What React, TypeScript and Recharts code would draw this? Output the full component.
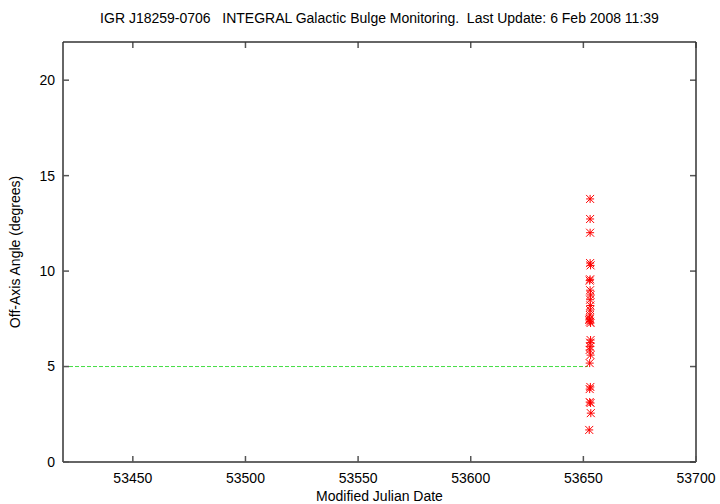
import React from 'react';
import { ScatterChart, Scatter, XAxis, YAxis, ReferenceLine, Label } from 'recharts';

const mjd = [
  53653.0, 53653.0, 53653.0, 53653.0, 53653.2, 53653.0, 53652.8, 53653.0, 53653.2, 53653.0,
  53653.1, 53653.0, 53652.9, 53652.6, 53652.8, 53653.2, 53652.9, 53653.2, 53653.0, 53653.0,
  53652.8, 53653.2, 53652.8, 53653.1, 53652.8, 53652.8, 53653.2, 53653.3, 53652.6,
];
const offAxis = [
  13.78, 12.73, 12.01, 10.42, 10.3, 9.57, 9.5, 9.0, 8.75, 8.5,
  8.2, 7.96, 7.7, 7.44, 7.5, 7.28, 7.35, 6.39, 6.25, 6.04,
  5.87, 5.6, 5.18, 3.93, 3.82, 3.14, 3.09, 2.56, 1.68,
];
const xTicks = [53450, 53500, 53550, 53600, 53650, 53700];
const yTicks = [0, 5, 10, 15, 20];
const xDomain: [number, number] = [53419, 53700];
const yDomain: [number, number] = [0, 22];
const limitAngle = 5;
const limitSpan = [53419, 53652];
const title = 'IGR J18259-0706   INTEGRAL Galactic Bulge Monitoring.  Last Update: 6 Feb 2008 11:39';
const xLabel = 'Modified Julian Date';
const yLabel = 'Off-Axis Angle (degrees)';

const data = mjd.map((x, i) => ({ x, y: offAxis[i] }));

const L = 63, R = 696, T = 42, B = 462;
const FONT = '"Liberation Sans", Arial, sans-serif';
const FS = 14;
const AXIS = '#333333';
const TICK = '#555555';

const Star = (props: any) => {
  const { cx, cy } = props;
  const s = 4;
  return (
    <g stroke="#ff0000" strokeWidth={1}>
      <line x1={cx - s} y1={cy} x2={cx + s} y2={cy} />
      <line x1={cx} y1={cy - s} x2={cx} y2={cy + s} />
      <line x1={cx - s} y1={cy - s} x2={cx + s} y2={cy + s} />
      <line x1={cx - s} y1={cy + s} x2={cx + s} y2={cy - s} />
    </g>
  );
};

const BottomTick = (props: any) => {
  const { x, payload } = props;
  return (
    <g>
      <line x1={x} x2={x} y1={B} y2={B - 6} stroke={TICK} strokeWidth={1.5} />
      <text x={x} y={B + 21} textAnchor="middle" fontFamily={FONT} fontSize={FS} fill="#000">
        {payload.value}
      </text>
    </g>
  );
};
const LeftTick = (props: any) => {
  const { y, payload } = props;
  return (
    <g>
      <line x1={L} x2={L + 6} y1={y} y2={y} stroke={TICK} strokeWidth={1.5} />
      <text x={L - 8} y={y} dy="0.35em" textAnchor="end" fontFamily={FONT} fontSize={FS} fill="#000">
        {payload.value}
      </text>
    </g>
  );
};

// mirror ticks drawn only near the top / right edge of a full-height/-width reference line
const TopMirrorTick = (p: any) => {
  const top = Math.min(p.y1, p.y2);
  return <line x1={p.x1} x2={p.x1} y1={top} y2={top + 6} stroke={TICK} strokeWidth={1.5} />;
};
const RightMirrorTick = (p: any) => {
  const right = Math.max(p.x1, p.x2);
  return <line x1={right} x2={right - 6} y1={p.y1} y2={p.y1} stroke={TICK} strokeWidth={1.5} />;
};

export default function App() {
  return (
    <div style={{ position: 'relative', width: 720, height: 504, background: '#fff' }}>
      <style>{'html,body{margin:0;padding:0;}'}</style>
      <div
        style={{
          position: 'absolute', top: 10, left: L, width: R - L, textAlign: 'center',
          fontFamily: FONT, fontSize: FS, lineHeight: '16px', whiteSpace: 'pre', color: '#000',
        }}
      >
        {title}
      </div>
      <ScatterChart width={720} height={504} margin={{ top: T, right: 720 - R, bottom: 0, left: 0 }}>
        <XAxis
          dataKey="x" type="number" domain={xDomain} ticks={xTicks} height={504 - B}
          axisLine={{ stroke: AXIS, strokeWidth: 1.5 }} tickLine={false} tick={<BottomTick />}
          allowDataOverflow interval={0}
        >
          <Label value={xLabel} position="insideBottom" offset={3} fontFamily={FONT} fontSize={FS} fill="#000" />
        </XAxis>
        <YAxis
          dataKey="y" type="number" domain={yDomain} ticks={yTicks} width={L}
          axisLine={{ stroke: AXIS, strokeWidth: 1.5 }} tickLine={false} tick={<LeftTick />}
          allowDataOverflow interval={0}
        >
          <Label value={yLabel} position="center" angle={-90} dx={-16} fontFamily={FONT} fontSize={FS} fill="#000" />
        </YAxis>
        {xTicks.map((t) => (
          <ReferenceLine key={'tx' + t} x={t} shape={<TopMirrorTick />} />
        ))}
        {yTicks.map((t) => (
          <ReferenceLine key={'ty' + t} y={t} shape={<RightMirrorTick />} />
        ))}
        <ReferenceLine y={yDomain[1]} stroke={AXIS} strokeWidth={1.5} />
        <ReferenceLine x={xDomain[1]} stroke={AXIS} strokeWidth={1.5} />
        <ReferenceLine
          segment={[{ x: limitSpan[0], y: limitAngle }, { x: limitSpan[1], y: limitAngle }]}
          stroke="#44dd44" strokeWidth={1} strokeDasharray="4 2"
        />
        <Scatter data={data} shape={<Star />} isAnimationActive={false} />
      </ScatterChart>
    </div>
  );
}
